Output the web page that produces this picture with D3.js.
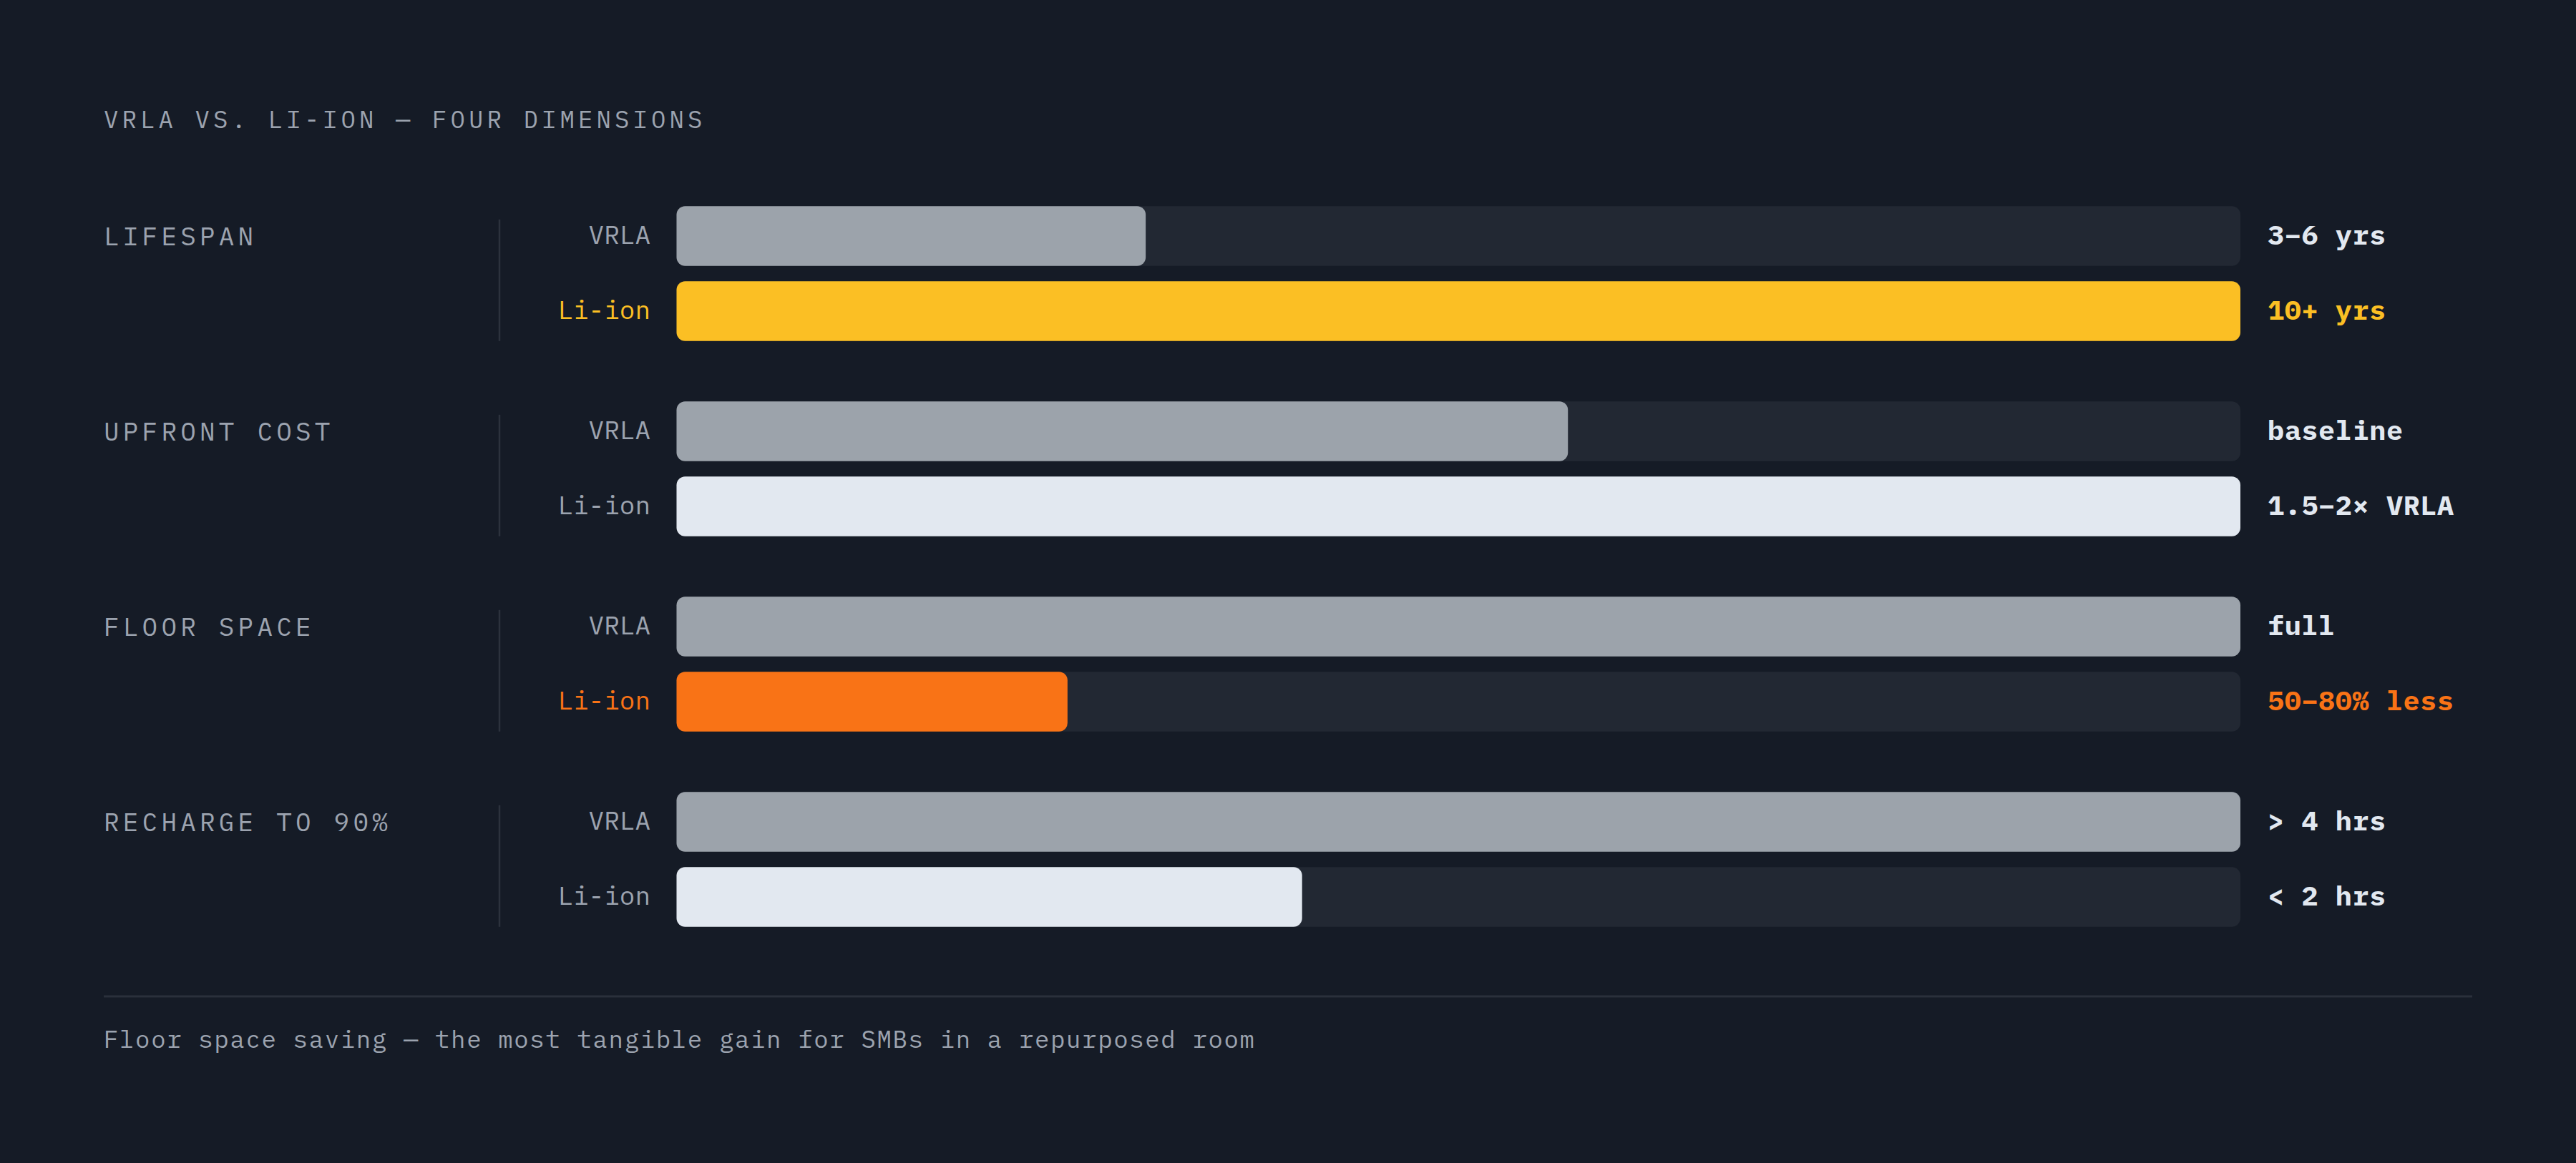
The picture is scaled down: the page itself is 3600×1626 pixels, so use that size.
<!DOCTYPE html>
<html>
<head>
<meta charset="utf-8">
<script src="https://cdn.jsdelivr.net/npm/d3@7"></script>
<style>
  html, body { margin: 0; padding: 0; background: #151b26; }
  svg { display: block; }
  text { font-family: "IBM Plex Mono", "DejaVu Sans Mono", monospace; }
</style>
</head>
<body>
<svg id="chart"></svg>
<script>
// Data (bar length as share of the track)
const dimensions = ["LIFESPAN", "UPFRONT COST", "FLOOR SPACE", "RECHARGE TO 90%"];
const series = ["VRLA", "Li-ion"];
const vrlaValues = [0.30, 0.57, 1.00, 1.00];
const liionValues = [1.00, 1.00, 0.25, 0.40];
const vrlaLabels = ["3–6 yrs", "baseline", "full", "> 4 hrs"];
const liionLabels = ["10+ yrs", "1.5–2× VRLA", "50–80% less", "< 2 hrs"];
const title = "VRLA VS. LI-ION — FOUR DIMENSIONS";
const footnote = "Floor space saving — the most tangible gain for SMBs in a repurposed room";

const W = 3600, H = 1626;

const conf = {
  left: 145,
  divX: 698,
  labelRight: 909,
  valueX: 3169,
  ruleRight: 3455,
};

const svg = d3.select('#chart')
  .attr('width', W)
  .attr('height', H)
  .attr('viewBox', [0, 0, W, H]);

svg.append('rect')
  .attr('width', W).attr('height', H)
  .attr('fill', '#151b26');

// Scales
const x = d3.scaleLinear()
  .domain([0, 1])
  .range([945.5, 3131]);

const y = d3.scaleBand()
  .domain(dimensions)
  .range([288.3, 288.3 + 3 * 273 + 188.5])
  .paddingInner(84.5 / 273)
  .paddingOuter(0);

const yInner = d3.scaleBand()
  .domain(series)
  .range([0, y.bandwidth()])
  .paddingInner(0.205);

// Li-ion accent per dimension; null means neutral light
const accent = d3.scaleOrdinal()
  .domain(dimensions)
  .range(['#fbbf24', null, '#f97316', null]);

const grey = '#9ca3ab';
const light = '#e2e8f0';
const track = '#222833';

const rows = dimensions.map((d, i) => ({
  dim: d,
  bars: [
    { key: "VRLA", value: vrlaValues[i], label: vrlaLabels[i] },
    { key: "Li-ion", value: liionValues[i], label: liionLabels[i] }
  ]
}));

// Title
svg.append('text')
  .attr('x', conf.left)
  .attr('y', 178.5)
  .attr('font-size', 34)
  .attr('letter-spacing', 5.1)
  .attr('fill', '#9ca3af')
  .text(title);

const group = svg.selectAll('.dim')
  .data(rows)
.enter().append('g')
  .attr('class', 'dim')
  .attr('transform', r => `translate(0,${y(r.dim)})`);

// Dimension name
group.append('text')
  .attr('x', conf.left)
  .attr('y', 54.5)
  .attr('font-size', 36)
  .attr('letter-spacing', 5.2)
  .attr('fill', '#9ca3af')
  .text(r => r.dim);

// Divider
group.append('line')
  .attr('x1', conf.divX).attr('x2', conf.divX)
  .attr('y1', 18.5).attr('y2', y.bandwidth())
  .attr('stroke', '#2c323d')
  .attr('stroke-width', 2.5);

const bar = group.selectAll('.bar')
  .data(r => r.bars.map(b => Object.assign({ dim: r.dim }, b)))
.enter().append('g')
  .attr('class', 'bar')
  .attr('transform', b => `translate(0,${yInner(b.key)})`);

function barColor(b) {
  if (b.key === "VRLA") return grey;
  return accent(b.dim) || light;
}
function labelColor(b) {
  if (b.key === "VRLA") return '#9ca3af';
  return accent(b.dim) || '#9ca3af';
}
function valueColor(b) {
  if (b.key === "VRLA") return light;
  return accent(b.dim) || light;
}

const bh = yInner.bandwidth();

bar.append('rect')
  .attr('x', x(0))
  .attr('y', 0)
  .attr('width', x(1) - x(0))
  .attr('height', bh)
  .attr('rx', 12)
  .attr('fill', track);

bar.append('rect')
  .attr('x', x(0))
  .attr('y', 0)
  .attr('width', b => x(b.value) - x(0))
  .attr('height', bh)
  .attr('rx', 12)
  .attr('fill', barColor);

bar.append('text')
  .attr('x', conf.labelRight)
  .attr('y', bh / 2 + 10.5)
  .attr('text-anchor', 'end')
  .attr('font-size', 36)
  .attr('fill', labelColor)
  .text(b => b.key);

bar.append('text')
  .attr('x', conf.valueX)
  .attr('y', bh / 2 + 12)
  .attr('font-size', 38.5)
  .attr('letter-spacing', 0.6)
  .attr('font-weight', 700)
  .attr('fill', valueColor)
  .text(b => b.label);

// Bottom rule and footnote
svg.append('line')
  .attr('x1', conf.left).attr('x2', conf.ruleRight)
  .attr('y1', 1393).attr('y2', 1393)
  .attr('stroke', '#2a303b')
  .attr('stroke-width', 3);

svg.append('text')
  .attr('x', conf.left)
  .attr('y', 1465)
  .attr('font-size', 34)
  .attr('letter-spacing', 1.65)
  .attr('fill', '#9ca3af')
  .text(footnote);
</script>
</body>
</html>
